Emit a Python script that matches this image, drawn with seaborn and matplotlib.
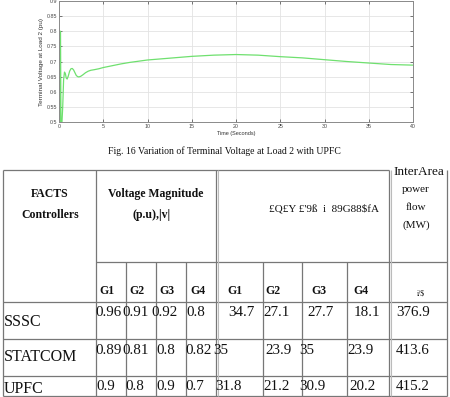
import numpy as np
import pandas as pd
import matplotlib
matplotlib.use("Agg")
import matplotlib.pyplot as plt
import seaborn as sns

# ---------------- data ----------------
time_s = [0.0, 0.10, 0.14, 0.17, 0.22, 0.32, 0.42, 0.52, 0.62, 0.72, 0.82, 0.92, 1.05,
          1.2, 1.35, 1.5, 1.65, 1.8, 1.95, 2.1, 2.25, 2.45, 2.7, 3.0, 3.3, 3.6, 4.0,
          4.5, 5, 6, 7, 8, 9, 10, 12.5, 15, 17.5, 20, 22.5, 25, 27.5, 30, 32.5, 35,
          37.5, 40]
voltage = [0.5, 0.5, 0.8, 0.8, 0.49, 0.49, 0.55, 0.64, 0.665, 0.66, 0.645, 0.642, 0.652,
           0.668, 0.676, 0.677, 0.672, 0.663, 0.654, 0.65, 0.649, 0.651, 0.656, 0.663, 0.668,
           0.671, 0.673, 0.676, 0.68, 0.686, 0.692, 0.697, 0.701, 0.705, 0.711, 0.717,
           0.721, 0.723, 0.721, 0.716, 0.712, 0.706, 0.700, 0.695, 0.690, 0.688]

x_ticks = [0, 5, 10, 15, 20, 25, 30, 35, 40]
y_ticks = [0.5, 0.55, 0.6, 0.65, 0.7, 0.75, 0.8, 0.85, 0.9]
y_tick_labels = ["0.5", "0.55", "0.6", "0.65", "0.7", "0.75", "0.8", "0.85", "0.9"]

x_label = "Time (Seconds)"
y_label = "Terminal Voltage at Load 2 (pu)"
caption = "Fig. 16 Variation of Terminal Voltage at Load 2 with UPFC"

controllers = ["SSSC", "STATCOM", "UPFC"]
gen_labels = ["G1", "G2", "G3", "G4"]
voltage_mag = [["0.96", "0.91", "0.92", "0.8"],
               ["0.89", "0.81", "0.8", "0.82"],
               ["0.9", "0.8", "0.9", "0.7"]]
second_vals = [["34.7", "27.1", "27.7", "18.1"],
               ["35", "23.9", "35", "23.9"],
               ["31.8", "21.2", "30.9", "20.2"]]
interarea = ["376.9", "413.6", "415.2"]

hdr_facts = ["FACTS", "Controllers"]
hdr_volt = ["Voltage Magnitude", "(p.u),|v|"]
hdr_garbled = "£Q£Y £'9ß  i  89G88$fA"
hdr_inter = ["InterArea", "power", "flow", "(MW)"]
hdr_inter_sub = "i/$"

# ---------------- figure ----------------
sns.set_theme(style="white")
plt.rcParams["font.family"] = ["Liberation Sans", "DejaVu Sans"]

W, H = 450, 397
fig = plt.figure(figsize=(W / 100, H / 100), dpi=100)
fig.patch.set_facecolor("white")

# chart axes
ax = fig.add_axes([59 / W, 1 - 122 / H, 354 / W, 121 / H])
df = pd.DataFrame({"t": time_s, "v": voltage})
sns.lineplot(data=df, x="t", y="v", ax=ax, color="#6fe06f", linewidth=0.9,
             estimator=None, sort=False)
ax.set_xlim(0, 40)
ax.set_ylim(0.5, 0.9)
ax.set_xticks(x_ticks)
ax.set_xticklabels([str(v) for v in x_ticks])
ax.set_yticks(y_ticks)
ax.set_yticklabels(y_tick_labels)
ax.grid(True, color="#e3e3e3", linewidth=0.6)
ax.tick_params(axis="both", labelsize=3.8, colors="#444444", direction="in",
               length=2, width=0.5, pad=1.5, top=True, right=True,
               bottom=True, left=True)
for s in ax.spines.values():
    s.set_color("#8a8a8a")
    s.set_linewidth(0.7)
ax.set_xlabel(x_label, fontsize=4.0, color="#333333", labelpad=1.5)
ax.set_ylabel(y_label, fontsize=4.6, color="#333333", labelpad=2)

# overlay for caption + table (pixel coords)
ov = fig.add_axes([0, 0, 1, 1], zorder=-1)
ov.set_xlim(0, W)
ov.set_ylim(H, 0)
ov.axis("off")

serif = ["Liberation Serif", "DejaVu Serif"]
ov.text(224, 151, caption, ha="center", va="center", fontsize=7.0, family=serif,
        color="#111111")

lc = "#777777"
lw = 0.9
# horizontal lines
ov.hlines(170, 3, 389, color=lc, lw=lw)
ov.hlines(262, 96, 447, color=lc, lw=lw)
for yy in [302, 339, 376, 396]:
    ov.hlines(yy, 3, 447, color=lc, lw=lw)
# vertical lines
for xx in [3, 96, 216, 389, 447]:
    ov.vlines(xx, 170, 396, color=lc, lw=lw)
for xx in [126, 156, 186, 263, 302, 347]:
    ov.vlines(xx, 262, 396, color=lc, lw=lw)
ov.vlines(218, 170, 396, color="#bbbbbb", lw=0.8)
ov.vlines(391, 170, 396, color="#bbbbbb", lw=0.8)

tc = "#111111"
# header
ov.text(50, 194, hdr_facts[0], ha="center", va="center", fontsize=8.5,
        fontweight="bold", family=serif, color=tc)
ov.text(50, 215, hdr_facts[1], ha="center", va="center", fontsize=8.5,
        fontweight="bold", family=serif, color=tc)
ov.text(156, 194, hdr_volt[0], ha="center", va="center", fontsize=8.5,
        fontweight="bold", family=serif, color=tc)
ov.text(152, 215, hdr_volt[1], ha="center", va="center", fontsize=8.5,
        fontweight="bold", family=serif, color=tc)
ov.text(324, 209, hdr_garbled, ha="center", va="center", fontsize=8.0,
        family=serif, color=tc)
ov.text(419, 172, hdr_inter[0], ha="center", va="center", fontsize=9.5,
        family=serif, color=tc)
for lab, yy in zip(hdr_inter[1:], [189, 207, 225]):
    ov.text(416, yy, lab, ha="center", va="center", fontsize=8.0,
            family=serif, color=tc)

# sub-header
g_x = [107, 137, 167, 198, 235, 273, 319, 361]
for lab, xx in zip(gen_labels + gen_labels, g_x):
    ov.text(xx, 291, lab, ha="center", va="center", fontsize=8.5,
            fontweight="bold", family=serif, color=tc)
ov.text(421, 294, hdr_inter_sub, ha="center", va="center", fontsize=5.5,
        family=serif, color=tc)

# body
num_y = [313, 350, 386]
lab_y = [322, 357, 389]
vx = [[109, 136, 164, 196], [109, 136, 166, 198.5], [106, 135, 165.6, 195]]
sx = [[241, 277, 321, 366.5], [220.7, 278, 306.5, 361], [229, 277, 312, 362.5]]
for i, ctrl in enumerate(controllers):
    ov.text(4, lab_y[i], ctrl, ha="left", va="center", fontsize=11.5,
            family=serif, color=tc)
    for j in range(4):
        ov.text(vx[i][j], num_y[i], voltage_mag[i][j], ha="center", va="center",
                fontsize=10.8, family=serif, color=tc)
        ov.text(sx[i][j], num_y[i], second_vals[i][j], ha="center", va="center",
                fontsize=10.8, family=serif, color=tc)
    ov.text(413, num_y[i], interarea[i], ha="center", va="center",
            fontsize=10.8, family=serif, color=tc)

fig.savefig("out.png", dpi=100, facecolor="white")
